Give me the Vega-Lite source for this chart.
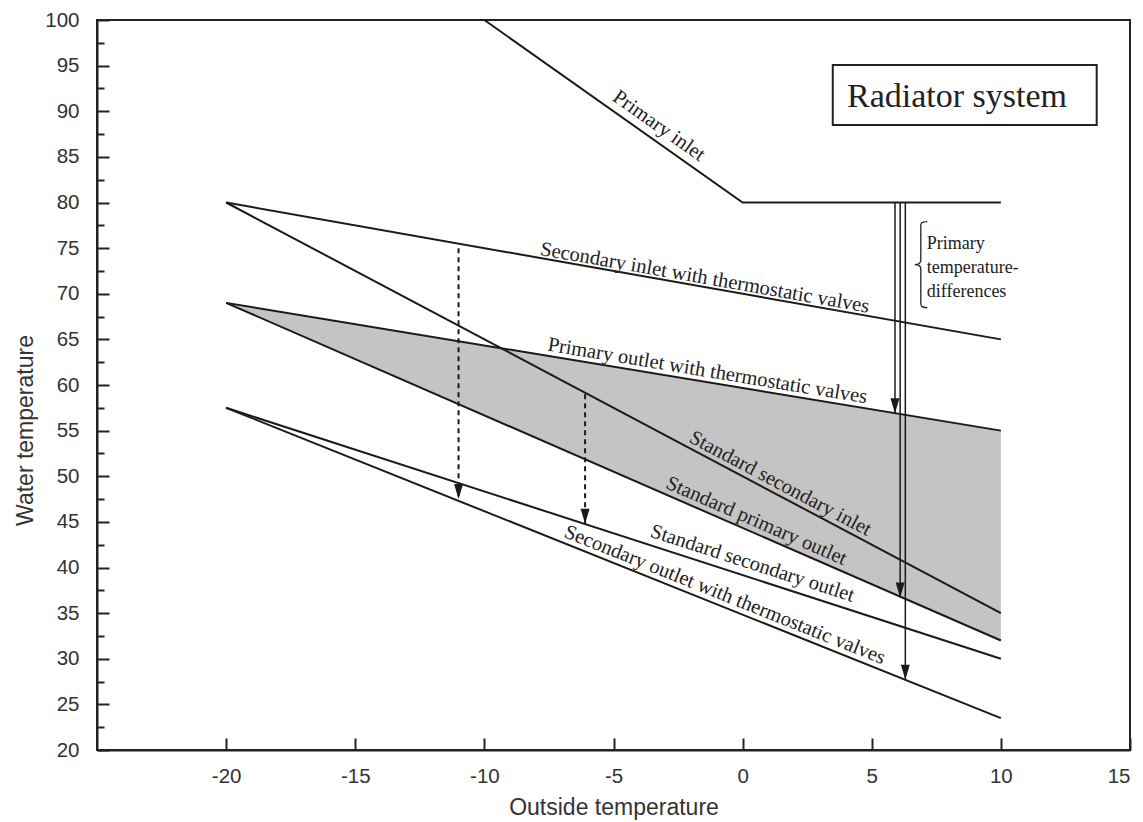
{
  "$schema": "https://vega.github.io/schema/vega-lite/v6.json",
  "width": 1033,
  "height": 730,
  "autosize": {"type": "none"},
  "padding": {"left": 97, "top": 20, "right": 13, "bottom": 72},
  "background": "white",
  "config": {
    "view": {"stroke": "#222", "strokeWidth": 2},
    "axis": {
      "grid": false,
      "domainColor": "#222",
      "domainWidth": 2,
      "tickColor": "#222",
      "tickWidth": 2,
      "labelColor": "#333",
      "labelFont": "Liberation Sans",
      "labelFontSize": 20.5,
      "titleFont": "Liberation Sans",
      "titleFontSize": 23,
      "titleFontWeight": "normal",
      "titleColor": "#333"
    }
  },
  "datasets": {
    "lines": [
      {"series": "Primary inlet", "x": -10, "y": 100},
      {"series": "Primary inlet", "x": 0, "y": 80},
      {"series": "Primary inlet", "x": 10, "y": 80},
      {"series": "Secondary inlet with thermostatic valves", "x": -20, "y": 80},
      {"series": "Secondary inlet with thermostatic valves", "x": 10, "y": 65},
      {"series": "Standard secondary inlet", "x": -20, "y": 80},
      {"series": "Standard secondary inlet", "x": 10, "y": 35},
      {"series": "Primary outlet with thermostatic valves", "x": -20, "y": 69},
      {"series": "Primary outlet with thermostatic valves", "x": 10, "y": 55},
      {"series": "Standard primary outlet", "x": -20, "y": 69},
      {"series": "Standard primary outlet", "x": 10, "y": 32},
      {"series": "Standard secondary outlet", "x": -20, "y": 57.5},
      {"series": "Standard secondary outlet", "x": 10, "y": 30},
      {"series": "Secondary outlet with thermostatic valves", "x": -20, "y": 57.5},
      {"series": "Secondary outlet with thermostatic valves", "x": 10, "y": 23.5}
    ],
    "band": [
      {"x": -20, "y": 69, "y2": 69},
      {"x": 10, "y": 55, "y2": 32}
    ],
    "dashedArrows": [
      {"x": -11, "y": 75, "y2": 47.5},
      {"x": -6.1, "y": 59, "y2": 44.8}
    ],
    "solidArrows": [
      {"x": 5.9, "y": 80, "y2": 56.9},
      {"x": 6.1, "y": 80, "y2": 36.7},
      {"x": 6.3, "y": 80, "y2": 27.7}
    ]
  },
  "encoding": {
    "x": {
      "field": "x",
      "type": "quantitative",
      "scale": {"domain": [-25, 15], "nice": false, "zero": false},
      "axis": {
        "title": "Outside  temperature",
        "values": [-20, -15, -10, -5, 0, 5, 10, 15],
        "labelExpr": "replace(datum.label, '\u2212', '-')",
        "tickSize": -12,
        "labelPadding": 28,
        "titlePadding": 10
      }
    },
    "y": {
      "field": "y",
      "type": "quantitative",
      "scale": {"domain": [20, 100], "nice": false, "zero": false},
      "axis": {
        "title": "Water temperature",
        "values": [20, 22.5, 25, 27.5, 30, 32.5, 35, 37.5, 40, 42.5, 45, 47.5, 50, 52.5, 55, 57.5, 60, 62.5, 65, 67.5, 70, 72.5, 75, 77.5, 80, 82.5, 85, 87.5, 90, 92.5, 95, 97.5, 100],
        "labelExpr": "datum.value % 5 === 0 ? datum.label : ''",
        "tickSize": {"condition": {"test": "datum.value % 5 === 0", "value": -12}, "value": -7},
        "labelPadding": 30,
        "titleX": -72,
        "titleY": 410,
        "titleAngle": -90,
        "titleAlign": "center",
        "titleBaseline": "middle"
      }
    }
  },
  "layer": [
    {
      "data": {"name": "band"},
      "mark": {"type": "area", "color": "#c4c4c4", "opacity": 1},
      "encoding": {"y2": {"field": "y2"}}
    },
    {
      "data": {"name": "lines"},
      "mark": {"type": "line", "color": "#1a1a1a", "strokeWidth": 2},
      "encoding": {"detail": {"field": "series"}}
    },
    {
      "data": {"name": "dashedArrows"},
      "mark": {"type": "rule", "color": "#1a1a1a", "strokeWidth": 2, "strokeDash": [5, 4]},
      "encoding": {"y2": {"field": "y2"}}
    },
    {
      "data": {"name": "solidArrows"},
      "mark": {"type": "rule", "color": "#1a1a1a", "strokeWidth": 1.5},
      "encoding": {"y2": {"field": "y2"}}
    },
    {
      "data": {"name": "dashedArrows"},
      "mark": {"type": "point", "shape": "M-0.3,-1L0.3,-1L0,0Z", "size": 900, "filled": true, "color": "#1a1a1a", "opacity": 1},
      "encoding": {"y": {"field": "y2", "type": "quantitative"}}
    },
    {
      "data": {"name": "solidArrows"},
      "mark": {"type": "point", "shape": "M-0.3,-1L0.3,-1L0,0Z", "size": 900, "filled": true, "color": "#1a1a1a", "opacity": 1},
      "encoding": {"y": {"field": "y2", "type": "quantitative"}}
    },
    {
      "data": {"values": [{"x": 3.49, "x2": 13.71, "y": 88.49, "y2": 95.07}]},
      "mark": {"type": "rect", "fill": "white", "stroke": "#222", "strokeWidth": 2},
      "encoding": {"x2": {"field": "x2"}, "y2": {"field": "y2"}}
    },
    {
      "data": {"values": [{"x": 8.3, "y": 90.5, "label": "Radiator system"}]},
      "mark": {"type": "text", "font": "Liberation Serif", "fontSize": 34, "color": "#222", "align": "center", "baseline": "alphabetic"},
      "encoding": {"text": {"field": "label"}}
    },
    {
      "data": {"values": [{"x": 7.13, "y": 74.9, "label": "Primary\ntemperature-\ndifferences"}]},
      "mark": {"type": "text", "font": "Liberation Serif", "fontSize": 18, "color": "#222", "align": "left", "baseline": "alphabetic", "lineBreak": "\n", "lineHeight": 24},
      "encoding": {"text": {"field": "label"}}
    },
    {
      "data": {"values": [{"x": 6.9, "y": 73.2}]},
      "mark": {"type": "point", "shape": "M0.15,-1C0,-1 0,-0.95 0,-0.9L0,-0.1C0,-0.03 -0.05,0 -0.14,0C-0.05,0 0,0.03 0,0.1L0,0.9C0,0.95 0,1 0.15,1", "size": 7396, "filled": false, "stroke": "#222", "strokeWidth": 1.3, "opacity": 1}
    },
    {
      "data": {"values": [{"x": -3.24, "y": 88.4, "label": "Primary inlet"}]},
      "mark": {"type": "text", "font": "Liberation Serif", "fontSize": 20.5, "color": "#222", "angle": 35.2, "align": "center", "baseline": "middle"},
      "encoding": {"text": {"field": "label"}}
    },
    {
      "data": {"values": [{"x": -1.46, "y": 71.73, "label": "Secondary inlet with thermostatic valves"}]},
      "mark": {"type": "text", "font": "Liberation Serif", "fontSize": 20.5, "color": "#222", "angle": 10, "align": "center", "baseline": "middle"},
      "encoding": {"text": {"field": "label"}}
    },
    {
      "data": {"values": [{"x": -1.36, "y": 61.53, "label": "Primary outlet with thermostatic valves"}]},
      "mark": {"type": "text", "font": "Liberation Serif", "fontSize": 20.5, "color": "#222", "angle": 9.4, "align": "center", "baseline": "middle"},
      "encoding": {"text": {"field": "label"}}
    },
    {
      "data": {"values": [{"x": 1.46, "y": 49.2, "label": "Standard secondary inlet"}]},
      "mark": {"type": "text", "font": "Liberation Serif", "fontSize": 20.5, "color": "#222", "angle": 27.9, "align": "center", "baseline": "middle"},
      "encoding": {"text": {"field": "label"}}
    },
    {
      "data": {"values": [{"x": 0.53, "y": 45.1, "label": "Standard primary outlet"}]},
      "mark": {"type": "text", "font": "Liberation Serif", "fontSize": 20.5, "color": "#222", "angle": 23.5, "align": "center", "baseline": "middle"},
      "encoding": {"text": {"field": "label"}}
    },
    {
      "data": {"values": [{"x": 0.38, "y": 40.44, "label": "Standard secondary outlet"}]},
      "mark": {"type": "text", "font": "Liberation Serif", "fontSize": 20.5, "color": "#222", "angle": 17.9, "align": "center", "baseline": "middle"},
      "encoding": {"text": {"field": "label"}}
    },
    {
      "data": {"values": [{"x": -0.69, "y": 36.99, "label": "Secondary outlet with thermostatic valves"}]},
      "mark": {"type": "text", "font": "Liberation Serif", "fontSize": 20.5, "color": "#222", "angle": 21.8, "align": "center", "baseline": "middle"},
      "encoding": {"text": {"field": "label"}}
    }
  ]
}
